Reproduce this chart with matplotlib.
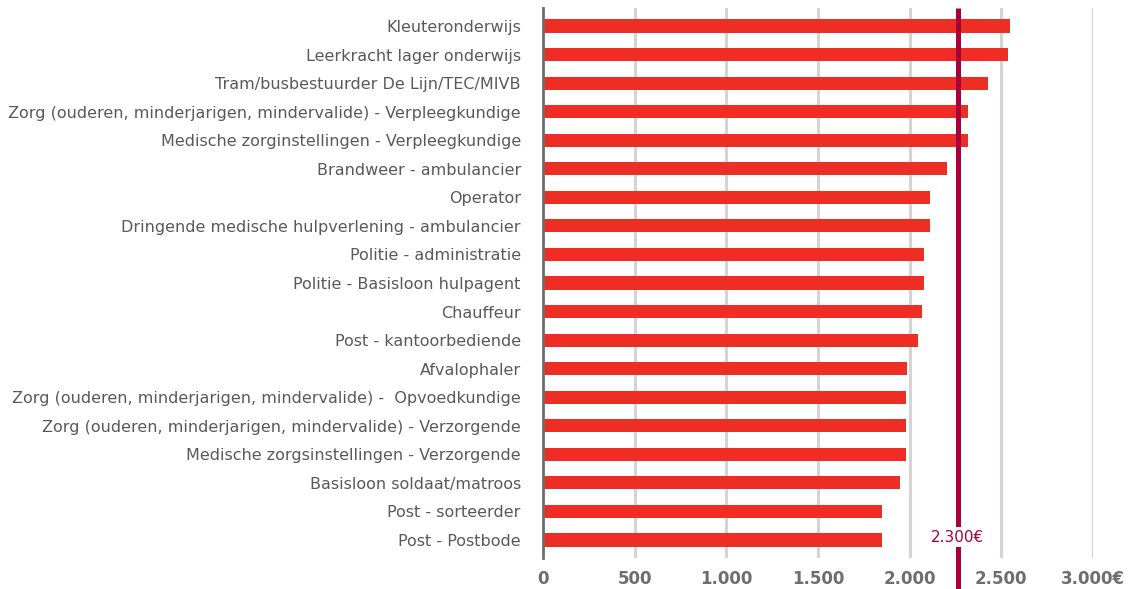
import matplotlib
matplotlib.use("Agg")
import matplotlib.pyplot as plt

categories = [
    "Kleuteronderwijs",
    "Leerkracht lager onderwijs",
    "Tram/busbestuurder De Lijn/TEC/MIVB",
    "Zorg (ouderen, minderjarigen, mindervalide) - Verpleegkundige",
    "Medische zorginstellingen - Verpleegkundige",
    "Brandweer - ambulancier",
    "Operator",
    "Dringende medische hulpverlening - ambulancier",
    "Politie - administratie",
    "Politie - Basisloon hulpagent",
    "Chauffeur",
    "Post - kantoorbediende",
    "Afvalophaler",
    "Zorg (ouderen, minderjarigen, mindervalide) -  Opvoedkundige",
    "Zorg (ouderen, minderjarigen, mindervalide) - Verzorgende",
    "Medische zorgsinstellingen - Verzorgende",
    "Basisloon soldaat/matroos",
    "Post - sorteerder",
    "Post - Postbode",
]
values = [2545, 2537, 2428, 2318, 2316, 2202, 2109, 2109, 2076, 2076,
          2065, 2044, 1984, 1978, 1978, 1978, 1946, 1847, 1847]
xticks = [0, 500, 1000, 1500, 2000, 2500, 3000]
xtick_labels = ["0", "500", "1.000", "1.500", "2.000", "2.500", "3.000€"]
ref_value = 2262
ref_label = "2.300€"

W, H = 1138, 589
fig = plt.figure(figsize=(W / 100, H / 100), dpi=100)
ax = fig.add_axes([543 / W, 1 - 558 / H, (1093 - 543) / W, (558 - 8) / H])

n = len(categories)
ypos = list(range(n))
ax.barh(ypos, values, height=0.46, color="#ee2e24", zorder=3)

ax.set_xlim(0, 3000)
ax.set_ylim(n - 1 + 0.63, -0.63)

for x in xticks[1:]:
    ax.axvline(x, color="#d4d4d4", lw=2.2, zorder=1)

for s in ["top", "right", "bottom"]:
    ax.spines[s].set_visible(False)
ax.spines["left"].set_color("#6d6e71")
ax.spines["left"].set_linewidth(2)
ax.spines["left"].set_zorder(4)

ax.set_yticks(ypos)
ax.set_yticklabels(categories, fontsize=11.5, color="#58595b")
ax.set_xticks(xticks)
ax.set_xticklabels(xtick_labels, fontsize=12, fontweight="bold", color="#6d6e71")
ax.tick_params(axis="y", length=0, pad=16)
ax.tick_params(axis="x", length=0, pad=9)

# reference line
ax.plot([ref_value, ref_value], [-0.63, n - 1 + 1.8], color="#a8003a",
        lw=3.6, zorder=5, clip_on=False, solid_capstyle="butt")
ax.text(ref_value, 17.9, ref_label, color="#a8003a", fontsize=11,
        ha="center", va="center", zorder=6,
        bbox=dict(facecolor="white", edgecolor="none", pad=2))

fig.savefig("out.png", dpi=100)
